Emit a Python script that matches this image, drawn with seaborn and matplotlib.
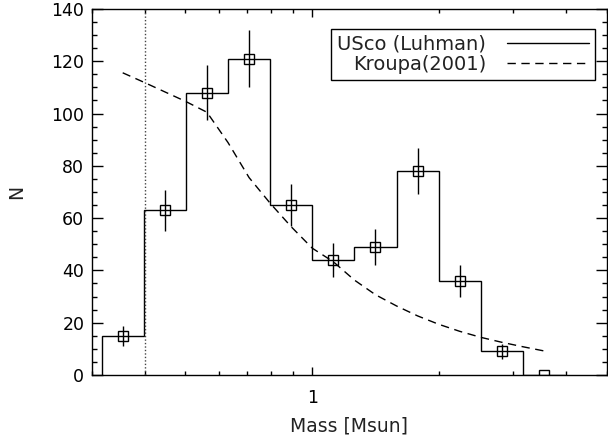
import numpy as np
import matplotlib
matplotlib.use("Agg")
import matplotlib.pyplot as plt
import matplotlib.ticker as mticker
from matplotlib.lines import Line2D
import seaborn as sns

# histogram: bin edges in log10(M/Msun) and counts per bin
log_edges = [-0.5, -0.4, -0.3, -0.2, -0.1, 0.0, 0.1, 0.2, 0.3, 0.4, 0.5, 0.6]
counts = [15, 63, 108, 121, 65, 44, 49, 78, 36, 9, 0]
errors = [3.9, 7.9, 10.4, 11.0, 8.1, 6.6, 7.0, 8.8, 6.0, 3.0, 0.0]

# Kroupa (2001) curve
kroupa_logm = [-0.45, -0.40, -0.35, -0.30, -0.25, -0.20, -0.15, -0.10, -0.05, 0.00,
               0.05, 0.10, 0.15, 0.20, 0.25, 0.30, 0.35, 0.40, 0.45, 0.50, 0.55]
kroupa_n = [115.6, 112.0, 108.3, 104.6, 100.5, 88.9, 75.5, 65.7, 56.7, 48.5,
            43.3, 36.3, 30.7, 26.4, 22.6, 19.4, 16.7, 14.4, 12.5, 10.8, 9.2]

mass_cut = 0.4  # dotted line

labels = ["USco (Luhman)", "Kroupa(2001)"]

edges = 10 ** np.array(log_edges)
centers = 10 ** ((np.array(log_edges[:-1]) + np.array(log_edges[1:])) / 2)

sns.set_style("ticks", {"axes.edgecolor": "black", "xtick.color": "black",
                        "ytick.color": "black", "text.color": "#222222",
                        "axes.labelcolor": "#222222"})
plt.rcParams['font.family'] = ['DejaVu Sans']

fig, ax = plt.subplots(figsize=(6.08, 4.37), dpi=100)
fig.subplots_adjust(left=0.1513, right=0.998, bottom=0.1419, top=0.9794)
ax.set_xscale('log')

ax.stairs(counts, edges, color='black', lw=1)
ax.errorbar(centers, counts, yerr=errors, fmt='s', ms=6.5, mfc='none', mec='black',
            mew=1, ecolor='black', elinewidth=1, capsize=0)
sns.lineplot(x=10 ** np.array(kroupa_logm), y=kroupa_n, ax=ax, color='black', lw=1,
             linestyle=(0, (6, 4)), sort=False)
ax.axvline(mass_cut, color='#444444', ls=(0, (1, 1.5)), lw=1)

ax.set_xlim(0.3, 5)
ax.set_ylim(0, 140)

ax.set_xticks([1], labels=['1'])
ax.xaxis.set_minor_locator(mticker.LogLocator(base=10, subs=np.arange(2, 10)))
ax.xaxis.set_minor_formatter(mticker.NullFormatter())
ax.yaxis.set_major_locator(mticker.MultipleLocator(20))
ax.yaxis.set_minor_locator(mticker.MultipleLocator(5))

ax.tick_params(which='both', direction='in', top=True, right=True, width=1, labelsize=12.5)
ax.tick_params(axis='x', which='major', length=5.8, pad=10)
ax.tick_params(axis='x', which='minor', length=2.7)
ax.tick_params(axis='y', which='major', length=7.7, pad=5.5)
ax.tick_params(axis='y', which='minor', length=3.4)
for s in ax.spines.values():
    s.set_linewidth(1)

ax.set_xlabel('Mass [Msun]', fontsize=13.5)
ax.set_ylabel('N', fontsize=13.5)
ax.xaxis.set_label_coords(0.5, -0.113)
ax.yaxis.set_label_coords(-0.127, 0.5)

handles = [Line2D([], [], color='black', lw=1),
           Line2D([], [], color='black', lw=1, ls=(0, (6, 4)))]
leg = ax.legend(handles, labels, loc='upper right', bbox_to_anchor=(0.977, 0.945),
                markerfirst=False, frameon=True, fancybox=False, edgecolor='black',
                framealpha=1, handlelength=4.2, handletextpad=1.1, borderpad=0.3,
                labelspacing=0.05, borderaxespad=0, fontsize=14)
leg.get_frame().set_linewidth(1)

fig.savefig('out.png', dpi=100)
